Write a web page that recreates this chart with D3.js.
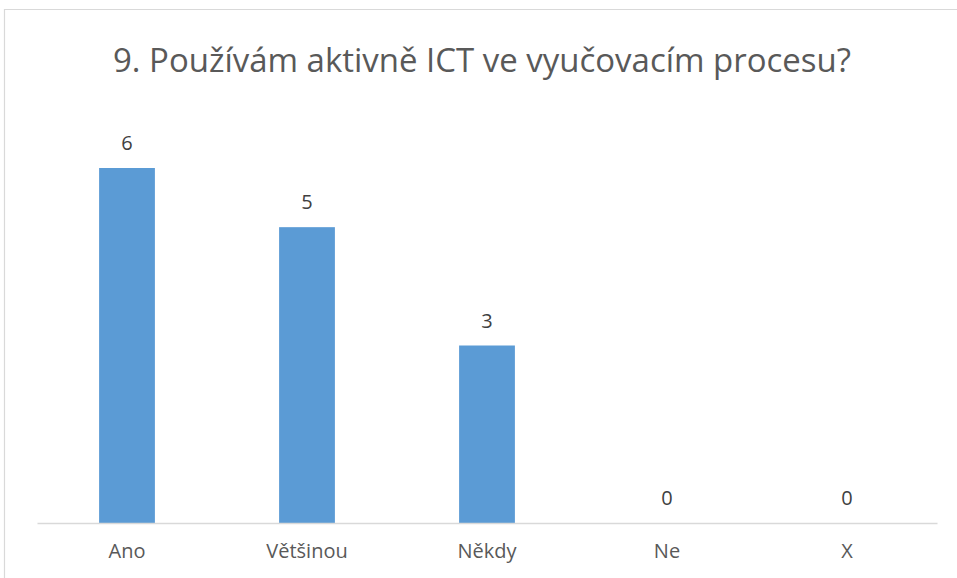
<!DOCTYPE html>
<html>
<head>
<meta charset="utf-8">
<script src="https://cdn.jsdelivr.net/npm/d3@7"></script>
<style>
  body { margin: 0; background: #fff; }
  svg { display: block; font-family: "Open Sans", sans-serif; }
</style>
</head>
<body>
<div id="chart"></div>
<script>
const title = "9. Používám aktivně ICT ve vyučovacím procesu?";
const categories = ["Ano", "Většinou", "Někdy", "Ne", "X"];
const values = [6, 5, 3, 0, 0];

var width = 957;
var height = 578;
var left = 37, right = 937, base = 523;

const svg = d3.select("#chart")
    .append("svg")
    .attr("width", width)
    .attr("height", height);

// chart frame (only top and left edges visible)
svg.append("path")
    .attr("d", "M4.5,600 L4.5,9.5 L960,9.5")
    .attr("fill", "none")
    .attr("stroke", "#d9d9d9")
    .attr("stroke-width", 1.2);

svg.append("text")
    .attr("x", 482)
    .attr("y", 72)
    .attr("text-anchor", "middle")
    .attr("fill", "#595959")
    .style("font-size", "32px")
    .attr("textLength", 738)
    .attr("lengthAdjust", "spacingAndGlyphs")
    .text(title);

const x = d3.scaleBand()
    .domain(categories)
    .range([left, right])
    .paddingInner(0.69)
    .paddingOuter(0.345);

const y = d3.scaleLinear()
    .domain([0, 6])
    .range([base, 168]);

svg.selectAll("rect.bar")
    .data(values)
    .enter()
    .append("rect")
    .attr("class", "bar")
    .attr("x", (d, i) => x(categories[i]))
    .attr("y", d => y(d))
    .attr("width", x.bandwidth())
    .attr("height", d => base - y(d))
    .attr("fill", "#5b9bd5");

// category axis
const xAxis = d3.axisBottom(x).tickSize(0).tickPadding(21);
const gx = svg.append("g")
    .attr("transform", `translate(0,${base})`)
    .call(xAxis);
gx.select(".domain").attr("stroke", "#d9d9d9").attr("stroke-width", 1.5);
gx.selectAll("text")
    .attr("fill", "#595959")
    .style("font-size", "20px")
    .style("font-family", "\"Open Sans\", sans-serif");

// value labels
svg.selectAll("text.val")
    .data(values)
    .enter()
    .append("text")
    .attr("class", "val")
    .attr("x", (d, i) => x(categories[i]) + x.bandwidth() / 2)
    .attr("y", d => y(d) - 18)
    .attr("text-anchor", "middle")
    .attr("fill", "#404040")
    .style("font-size", "20px")
    .text(d => d);
</script>
</body>
</html>
